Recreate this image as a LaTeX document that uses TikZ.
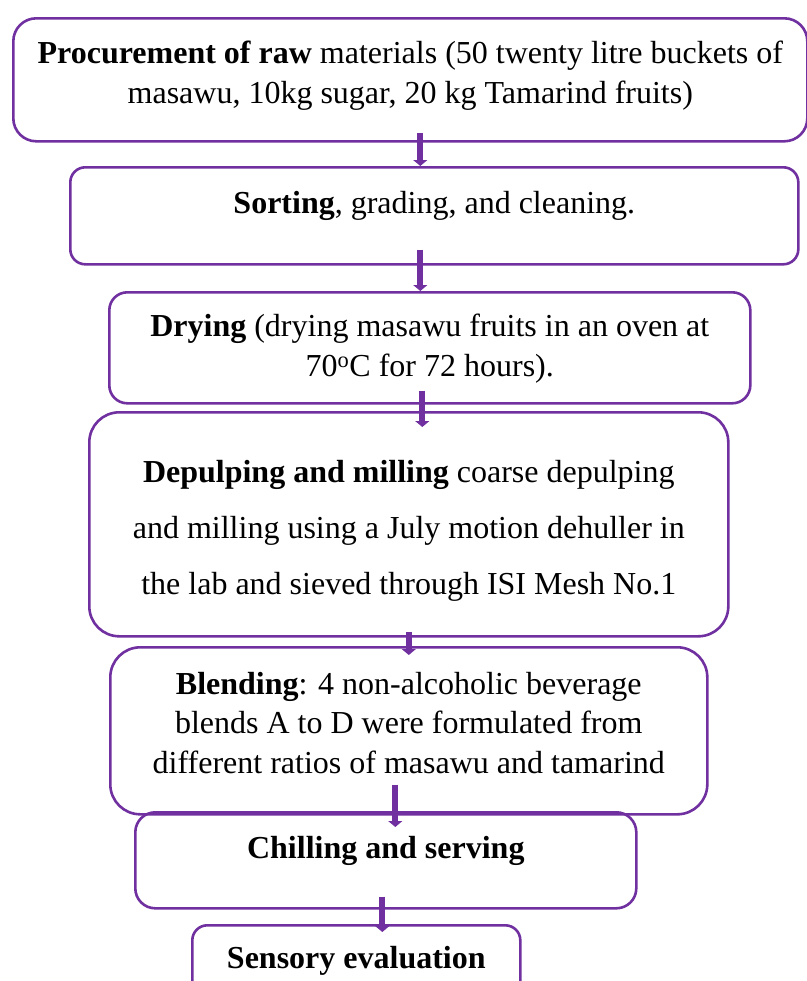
\documentclass[tikz,border=0pt]{standalone}
\usepackage{fontspec}
\setmainfont{Liberation Serif}
\usetikzlibrary{calc,arrows.meta}
\definecolor{stepviolet}{RGB}{112,48,160}
\tikzstyle{process} = [rectangle, draw=stepviolet, line width=2.6bp, anchor=north west, align=flush center, inner xsep=0pt, inner ysep=0pt, font=\fontsize{32bp}{40bp}\selectfont]
\tikzstyle{flow} = [stepviolet, line width=6bp, -{Triangle[width=14bp,length=6bp]}]

\begin{document}
\begin{tikzpicture}[x=1bp,y=-1bp]
    \useasboundingbox (0,0) rectangle (807,981);

    % Stage 1: raw materials
    \node (proc) at (12,17) [process, rounded corners=23bp, text width=794bp, text height=45bp, text depth=78bp]
        {\textbf{Procurement of raw} materials (50 twenty litre buckets of\\ masawu, 10kg sugar, 20 kg Tamarind fruits)};

    % Stage 2: sorting
    \node (sort) at (69,166) [process, rounded corners=15bp, text width=728bp, text height=46bp, text depth=51bp]
        {\textbf{Sorting}, grading, and cleaning.};

    % Stage 3: drying
    \node (dry) at (108,291) [process, rounded corners=18bp, text width=641bp, text height=44bp, text depth=67bp]
        {\textbf{Drying} (drying masawu fruits in an oven at\\ 70\textsuperscript{o}C for 72 hours).};

    % Stage 4: depulping and milling
    \node (dep) at (88,411) [process, rounded corners=30bp, text width=639bp, text height=70bp, text depth=154bp, font=\fontsize{32bp}{56bp}\selectfont]
        {\textbf{Depulping and milling} coarse depulping\\ and milling using a July motion dehuller in\\ the lab and sieved through ISI Mesh No.1};

    % Stage 5: blending
    \node (blend) at (109,646) [process, rounded corners=30bp, text width=597bp, text height=47bp, text depth=120bp, font=\fontsize{32bp}{39.5bp}\selectfont]
        {\textbf{Blending}: 4 non-alcoholic beverage\\ blends A to D were formulated from\\ different ratios of masawu and tamarind};

    % Stage 6: chilling
    \node (chill) at (134,811) [process, rounded corners=20bp, text width=501bp, text height=46bp, text depth=50bp]
        {\textbf{Chilling and serving}};

    % Stage 7: sensory evaluation
    \node (sens) at (191,924) [process, rounded corners=15bp, text width=328bp, text height=43bp, text depth=28bp]
        {\textbf{Sensory evaluation}};

    % Arrows between stages
    \draw[flow] ($(proc.south)+(10,-10)$) -- ($(proc.south |- sort.north)+(10,0)$);
    \draw[flow] ($(sort.south)+(-14,-16)$) -- ($(sort.south |- dry.north)+(-14,0)$);
    \draw[flow] ($(dry.south)+(-7.5,-14)$) -- ($(dry.south |- dep.north)+(-7.5,16)$);
    \draw[flow] ($(dep.south)+(0,-6)$) -- ($(dep.south |- blend.north)+(0,9)$);
    \draw[flow] ($(blend.south)+(-13.5,-31)$) -- ($(blend.south |- chill.north)+(-13.5,16)$);
    \draw[flow] ($(chill.south)+(-3.5,-13)$) -- ($(chill.south |- sens.north)+(-3.5,8)$);

\end{tikzpicture}
\end{document}
